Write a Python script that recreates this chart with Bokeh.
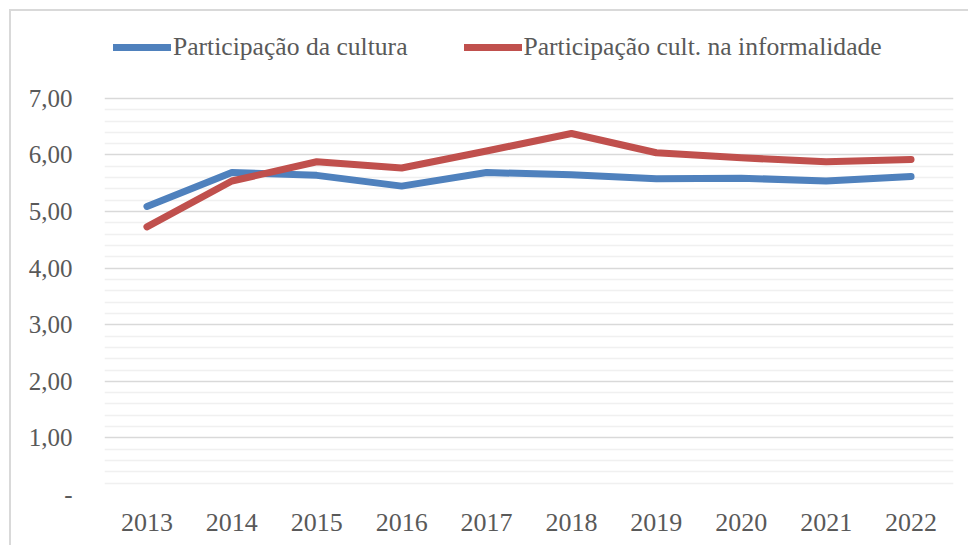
from bokeh.plotting import figure
from bokeh.models import FixedTicker, Legend, LegendItem, Range1d
from bokeh.embed import file_html
from bokeh.resources import INLINE

years = ["2013", "2014", "2015", "2016", "2017", "2018", "2019", "2020", "2021", "2022"]
cultura = [5.09, 5.69, 5.64, 5.45, 5.69, 5.65, 5.58, 5.59, 5.54, 5.62]
informal = [4.73, 5.54, 5.88, 5.77, 6.07, 6.38, 6.04, 5.95, 5.88, 5.92]
y_ticks = [0, 1, 2, 3, 4, 5, 6, 7]
y_labels = {0: "-", 1: "1,00", 2: "2,00", 3: "3,00", 4: "4,00", 5: "5,00", 6: "6,00", 7: "7,00"}
series_names = ["Participação da cultura", "Participação cult. na informalidade"]
colors = ["#4F81BD", "#C0504D"]

FONT = "Liberation Serif"
TXT = "#595959"

# frame spans the full height above the x axis so the legend can sit in it;
# the y range top is chosen so that 7 lands at the same height as in the reference
p = figure(x_range=years, y_range=Range1d(0, 8.73), width=968, height=545,
           output_backend="svg", toolbar_location=None,
           min_border_left=104, min_border_right=15, min_border_top=0, min_border_bottom=51)
p.x_range.range_padding = 0
p.outline_line_color = None
p.background_fill_color = None
p.border_fill_color = None
p.styles = {"background": "linear-gradient(#d9d9d9,#d9d9d9) 9px 9px / 2px 100% no-repeat, "
                          "linear-gradient(#d9d9d9,#d9d9d9) 9px 9px / 100% 2px no-repeat, white"}

r1 = p.line(years, cultura, line_color=colors[0], line_width=7, line_cap="round", line_join="round")
r2 = p.line(years, informal, line_color=colors[1], line_width=7, line_cap="round", line_join="round")

minor = [round(i * 0.2, 1) for i in range(36) if i % 5 != 0]
p.yaxis.ticker = FixedTicker(ticks=y_ticks, minor_ticks=minor)
p.yaxis.major_label_overrides = y_labels
p.yaxis.axis_line_color = None
p.yaxis.major_tick_line_color = None
p.yaxis.minor_tick_line_color = None
p.yaxis.major_tick_out = 0
p.yaxis.major_label_standoff = 28
p.yaxis.major_label_text_font = FONT
p.yaxis.major_label_text_font_size = "25px"
p.yaxis.major_label_text_color = TXT

p.xaxis.axis_line_color = None
p.xaxis.major_tick_line_color = None
p.xaxis.minor_tick_line_color = None
p.xaxis.major_tick_out = 0
p.xaxis.major_label_standoff = 19
p.xaxis.major_label_text_font = FONT
p.xaxis.major_label_text_font_size = "26px"
p.xaxis.major_label_text_color = TXT

p.xgrid.grid_line_color = None
p.ygrid.grid_line_color = "#d9d9d9"
p.ygrid.grid_line_width = 1.5
p.ygrid.minor_grid_line_color = "#f0f0f0"
p.ygrid.minor_grid_line_width = 1.5

legend = Legend(items=[LegendItem(label=series_names[0], renderers=[r1]),
                       LegendItem(label=series_names[1], renderers=[r2])],
                orientation="horizontal", location=(9, 432),
                glyph_width=58, glyph_height=20, label_standoff=2, spacing=56,
                padding=0, margin=0, border_line_color=None, background_fill_alpha=0,
                label_text_font=FONT, label_text_font_size="25.6px", label_text_color=TXT)
p.add_layout(legend, "center")

open("out.html", "w").write(file_html(p, INLINE))
